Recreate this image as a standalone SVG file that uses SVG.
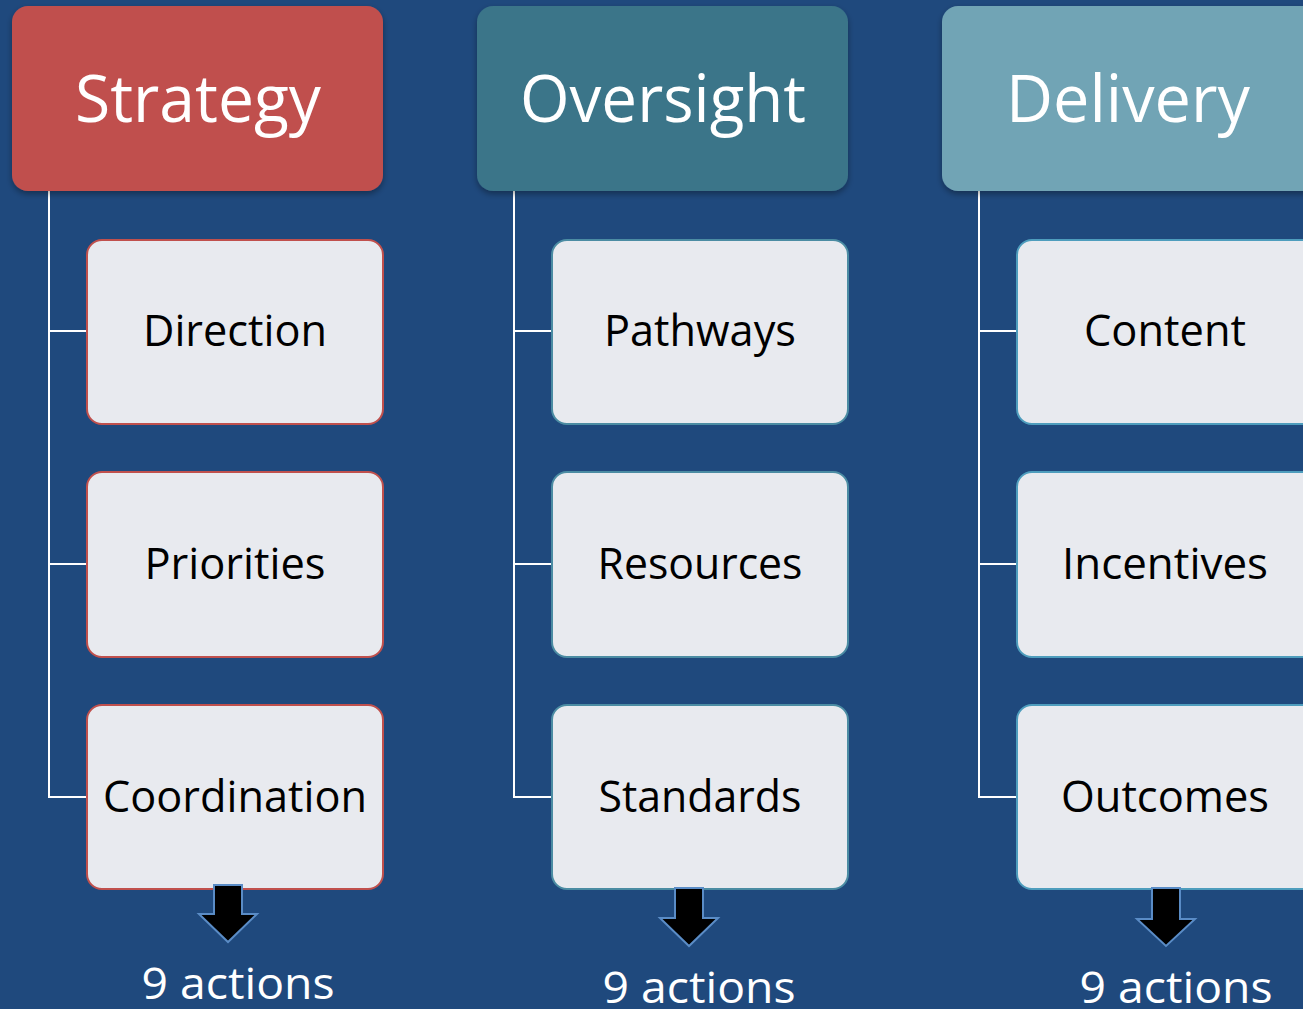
<svg xmlns="http://www.w3.org/2000/svg" width="1303" height="1009" viewBox="0 0 1303 1009">
  <style>
    .hdr { font-family: "Open Sans", "Noto Sans", sans-serif; font-size: 66px; fill: #ffffff; text-anchor: middle; }
    .lbl { font-family: "Open Sans", "Noto Sans", sans-serif; font-size: 44px; fill: #000000; text-anchor: middle; }
    .act { font-family: "Open Sans", "Noto Sans", sans-serif; font-size: 44px; fill: #ffffff; text-anchor: middle; }
    .child { fill: #e8eaef; stroke-width: 2; }
    .red { stroke: #c0504d; }
    .teal { stroke: #4b8ca3; }
    .sky { stroke: #4e9dbd; }
    .tree { fill: none; stroke: #ffffff; stroke-width: 2; }
    .down { fill: #000000; stroke: #5a8cc6; stroke-width: 2; stroke-linejoin: miter; }
  </style>
  <defs>
    <filter id="shadow" x="-10%" y="-10%" width="120%" height="125%">
      <feDropShadow dx="0" dy="3" stdDeviation="3" flood-color="#000000" flood-opacity="0.35"/>
    </filter>
  </defs>
  <rect x="0" y="0" width="1303" height="1009" fill="#1f497d"/>

  <!-- tree connectors -->
  <g id="connectors">
    <path class="tree" d="M49 191 V797 H86 M49 331 H86 M49 564 H86"/>
    <path class="tree" d="M514 191 V797 H551 M514 331 H551 M514 564 H551"/>
    <path class="tree" d="M979 191 V797 H1016 M979 331 H1016 M979 564 H1016"/>
  </g>

  <!-- Strategy column -->
  <g id="strategy">
    <rect x="12" y="6" width="371" height="185" rx="16" fill="#c0504d" filter="url(#shadow)"/>
    <text class="hdr" x="198" y="122" textLength="246" lengthAdjust="spacingAndGlyphs">Strategy</text>
  </g>
  <g id="direction">
    <rect class="child red" x="87" y="240" width="296" height="184" rx="15"/>
    <text class="lbl" x="235" y="346" textLength="184" lengthAdjust="spacingAndGlyphs">Direction</text>
  </g>
  <g id="priorities">
    <rect class="child red" x="87" y="472" width="296" height="185" rx="15"/>
    <text class="lbl" x="235" y="579" textLength="181" lengthAdjust="spacingAndGlyphs">Priorities</text>
  </g>
  <g id="coordination">
    <rect class="child red" x="87" y="705" width="296" height="184" rx="15"/>
    <text class="lbl" x="235" y="812" textLength="264" lengthAdjust="spacingAndGlyphs">Coordination</text>
  </g>
  <g id="strategy-actions">
    <path class="down" d="M214 885 H242 V914 H257 L228 942 L199 914 H214 Z"/>
    <text class="act" x="238" y="999" textLength="193" lengthAdjust="spacingAndGlyphs">9 actions</text>
  </g>

  <!-- Oversight column -->
  <g id="oversight">
    <rect x="477" y="6" width="371" height="185" rx="16" fill="#3b7489" filter="url(#shadow)"/>
    <text class="hdr" x="663" y="122" textLength="286" lengthAdjust="spacingAndGlyphs">Oversight</text>
  </g>
  <g id="pathways">
    <rect class="child teal" x="552" y="240" width="296" height="184" rx="15"/>
    <text class="lbl" x="700" y="346" textLength="192" lengthAdjust="spacingAndGlyphs">Pathways</text>
  </g>
  <g id="resources">
    <rect class="child teal" x="552" y="472" width="296" height="185" rx="15"/>
    <text class="lbl" x="700" y="579" textLength="205" lengthAdjust="spacingAndGlyphs">Resources</text>
  </g>
  <g id="standards">
    <rect class="child teal" x="552" y="705" width="296" height="184" rx="15"/>
    <text class="lbl" x="700" y="812" textLength="203" lengthAdjust="spacingAndGlyphs">Standards</text>
  </g>
  <g id="oversight-actions">
    <path class="down" d="M675 888 H703 V918 H718 L689 946 L660 918 H675 Z"/>
    <text class="act" x="699" y="1003" textLength="193" lengthAdjust="spacingAndGlyphs">9 actions</text>
  </g>

  <!-- Delivery column -->
  <g id="delivery">
    <rect x="942" y="6" width="380" height="185" rx="16" fill="#71a4b5" filter="url(#shadow)"/>
    <text class="hdr" x="1128" y="122" textLength="244" lengthAdjust="spacingAndGlyphs">Delivery</text>
  </g>
  <g id="content">
    <rect class="child sky" x="1017" y="240" width="300" height="184" rx="15"/>
    <text class="lbl" x="1165" y="346" textLength="162" lengthAdjust="spacingAndGlyphs">Content</text>
  </g>
  <g id="incentives">
    <rect class="child sky" x="1017" y="472" width="300" height="185" rx="15"/>
    <text class="lbl" x="1165" y="579" textLength="206" lengthAdjust="spacingAndGlyphs">Incentives</text>
  </g>
  <g id="outcomes">
    <rect class="child sky" x="1017" y="705" width="300" height="184" rx="15"/>
    <text class="lbl" x="1165" y="812" textLength="208" lengthAdjust="spacingAndGlyphs">Outcomes</text>
  </g>
  <g id="delivery-actions">
    <path class="down" d="M1152 888 H1180 V919 H1195 L1166 946 L1137 919 H1152 Z"/>
    <text class="act" x="1176" y="1003" textLength="193" lengthAdjust="spacingAndGlyphs">9 actions</text>
  </g>
</svg>
